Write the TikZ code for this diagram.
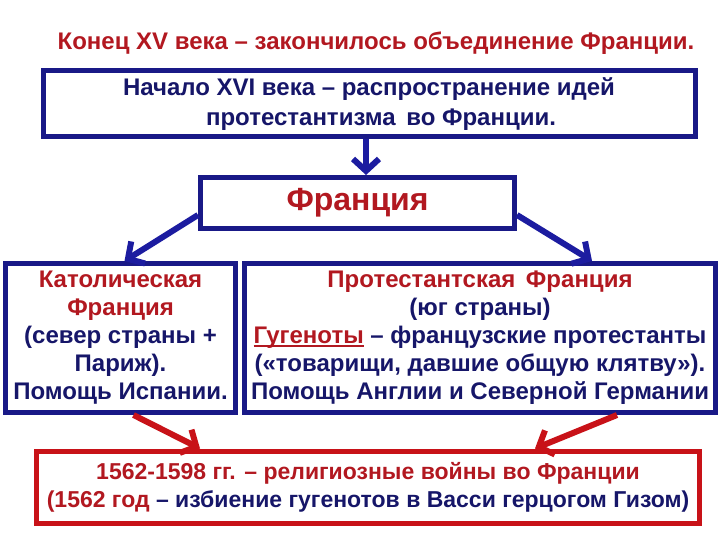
\documentclass[tikz,border=0pt]{standalone}
\usepackage{fontspec}
\setmainfont{Liberation Sans}
\usepackage{tikz}
\usetikzlibrary{arrows.meta, positioning, calc}
\definecolor{txtRed}{RGB}{178,24,32}
\definecolor{txtNavy}{RGB}{22,22,105}
\definecolor{boxEdge}{RGB}{25,25,135}
\definecolor{arrBlue}{RGB}{28,28,160}
\definecolor{warEdge}{RGB}{200,18,24}
\newcommand{\redul}[1]{\setbox0\hbox{#1}\rlap{\rule[-3.5pt]{\wd0}{2pt}}\box0}

\begin{document}
\begin{tikzpicture}[
    x=1pt, y=-1pt,
    frame/.style={rectangle, draw=boxEdge, line width=5pt, fill=white, align=center, inner sep=0pt, text=txtNavy, font=\bfseries\fontsize{24}{28}\selectfont},
    warframe/.style={frame, draw=warEdge},
    barrow/.style={-{Straight Barb[length=12pt, width=26pt]}, line width=6pt, arrBlue},
    rarrow/.style={barrow, warEdge}
]
\useasboundingbox (0,0) rectangle (720,540);

% Title
\node[font=\bfseries\fontsize{24}{30}\selectfont, text=txtRed] (title) at (376,43) {Конец XV века – закончилось объединение Франции.};

% Top box
\node[frame, minimum width=652pt, minimum height=66pt, font=\bfseries\fontsize{24}{30}\selectfont] (start) at (369,104)
    {Начало XVI века – распространение идей\\ \hspace*{1em}протестантизма\, во Франции.};

% France
\node[frame, minimum width=314pt, minimum height=51pt, text=txtRed, font=\bfseries\fontsize{32}{36}\selectfont] (fr) at (357.5,203) {\raisebox{-2pt}{Франция}};

% Two parts
\node[frame, minimum width=230pt, minimum height=149pt] (cat) at (120.5,338)
    {\textcolor{txtRed}{Католическая}\\ \textcolor{txtRed}{Франция}\\(север страны +\\Париж).\\Помощь Испании.};
\node[frame, minimum width=471pt, minimum height=149pt] (prot) at (480,338)
    {\textcolor{txtRed}{Протестантская\, Франция}\\(юг страны)\\\textcolor{txtRed}{\redul{Гугеноты}} – французские протестанты\\(«товарищи, давшие общую клятву»).\\Помощь Англии и Северной Германии};

% Wars
\node[warframe, minimum width=663pt, minimum height=72pt, font=\bfseries\fontsize{23}{28}\selectfont] (war) at (368,487)
    {\textcolor{txtRed}{1562-1598 гг. – религиозные войны во Франции}\\\textcolor{txtRed}{(1562 год} – избиение гугенотов в Васси герцогом Гизом)};

% Arrows
\draw[barrow] (start.south -| 366,0) -- (fr.north -| 366,0);
\draw[barrow] ([yshift=-12pt]fr.west) -- ([xshift=4pt]cat.north);
\draw[barrow] ([yshift=-12pt]fr.east) -- ([xshift=112pt]prot.north);
\draw[rarrow] ([xshift=13pt]cat.south) -- ([xshift=-168pt]war.north);
\draw[rarrow] ([xshift=137pt]prot.south) -- ([xshift=167pt]war.north);

\end{tikzpicture}
\end{document}
